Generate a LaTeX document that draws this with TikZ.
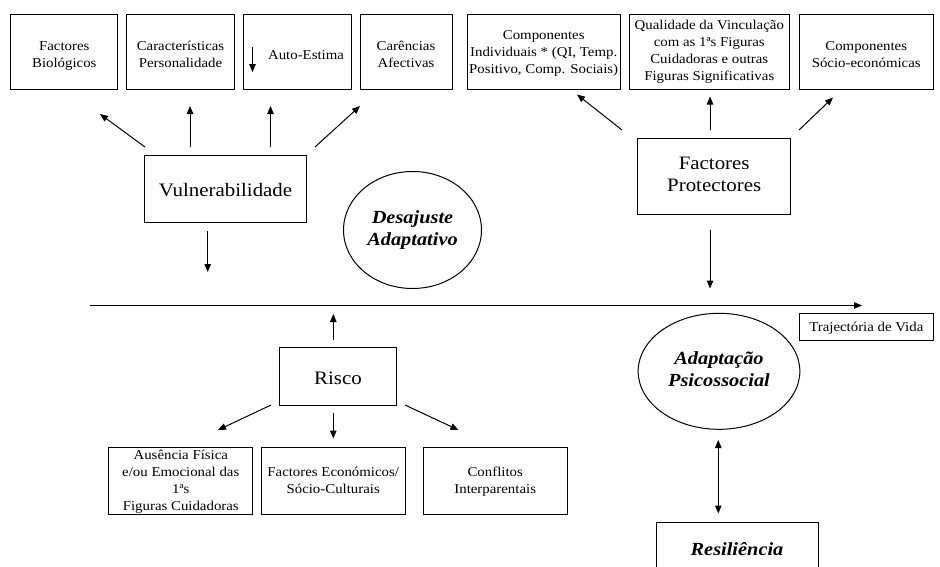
\documentclass[tikz,border=0pt]{standalone}
\usepackage{fontspec}
\setmainfont{Liberation Serif}[FakeStretch=1.1]
\usetikzlibrary{arrows.meta,shapes.geometric}

\newcommand\txtS{\fontsize{13.5}{17}\selectfont}
\newcommand\txtL{\fontsize{19}{22}\selectfont}
\newcommand\txtE{\fontsize{18.5}{21.5}\selectfont\bfseries\itshape}

\begin{document}
\begin{tikzpicture}[x=1pt,y=-1pt,
  % fixed line struts so that text sits on predictable baselines
  smallstrut/.style={execute at begin node={\rule{0pt}{12pt}},
                     execute at end node={\rule[-3.2pt]{0pt}{3.2pt}}},
  bigstrut/.style={execute at begin node={\rule{0pt}{19pt}},
                   execute at end node={\rule[-4pt]{0pt}{4pt}}},
  frame/.style={draw, line width=1pt, inner sep=0pt},
  topbox/.style={frame, minimum height=75pt},
  lowbox/.style={frame, minimum height=67pt, minimum width=143.7pt},
  % small text, hung from the top of its first line
  txt/.style={font=\txtS, align=center, inner sep=0pt, anchor=north,
              execute at begin node={\rule{0pt}{10pt}}},
  bigbox/.style={frame, align=center, font=\txtL, bigstrut},
  oval/.style={ellipse, frame, align=center, font=\txtE, bigstrut},
  tip/.tip={Triangle[length=8pt,width=6.5pt]},
  arr/.style={line width=1pt, -tip},
  darr/.style={line width=1pt, tip-tip},
]
\useasboundingbox (0,0) rectangle (940,566);
\clip (0,0) rectangle (940,566);

% ---- top row: vulnerability factors ----
\node[topbox, minimum width=107.3pt] (b1) at (64.3,51.5) {};
\node[txt] (b1t) at (64.3,41) {Factores\\Biológicos};
\node[topbox, minimum width=107.6pt] (b2) at (180.5,51.5) {};
\node[txt] (b2t) at (180.5,41) {Características\\Personalidade};
\node[topbox, minimum width=108pt]   (b3) at (297,51.5) {};
\node[txt] (b3t) at (306,49) {Auto-Estima};
\coordinate (b3a1) at (252.5,47);
\coordinate (b3a2) at (252.5,72);
\draw[arr] (b3a1) -- (b3a2);
\node[topbox, minimum width=92pt]    (b4) at (406,51.5) {};
\node[txt] (b4t) at (406,41) {Carências\\Afectivas};

% ---- top row: protective factors ----
\node[topbox, minimum width=152.7pt] (b5) at (543.7,51.5) {};
\node[txt] (b5t) at (543.7,30)
  {Componentes\\Individuais * (QI, Temp.\\Positivo, Comp. Sociais)};
\node[topbox, minimum width=160pt]   (b6) at (709.3,51.5) {};
\node[txt] (b6t) at (709.3,20)
  {Qualidade da Vinculação\\com as 1ªs Figuras\\Cuidadoras e outras\\Figuras Significativas};
\node[topbox, minimum width=133.7pt] (b7) at (866.2,51.5) {};
\node[txt] (b7t) at (866.2,41) {Componentes\\Sócio-económicas};

% ---- central nodes ----
\node[bigbox, minimum width=162.4pt, minimum height=67.3pt] (vul) at (225.5,188.7) {Vulnerabilidade};
\node[bigbox, minimum width=153pt, minimum height=76pt] (prot) at (714.2,176.3) {Factores\\Protectores};
\node[oval, minimum width=138pt, minimum height=117pt] (desaj) at (412.5,230) {Desajuste\\Adaptativo};
\node[bigbox, minimum width=117.4pt, minimum height=58pt] (risco) at (338,376.7) {Risco};
\node[frame, font=\txtS, smallstrut, minimum width=134pt, minimum height=26.7pt]
  (traj) at (866.3,326.7) {Trajectória de Vida};
\node[oval, minimum width=161.7pt, minimum height=116pt] (adapt) at (719,371.3) {Adaptação\\Psicossocial};
\node[frame, minimum width=162pt, minimum height=80pt] (resil) at (737,562) {};
\node[font=\txtE, inner sep=0pt] (resilt) at (737,549) {Resiliência};

% ---- risk factors ----
\node[lowbox] (r1) at (180.8,480.8) {};
\node[txt] (r1t) at (180.8,449.5) {Ausência Física\\e/ou Emocional das\\1ªs\\Figuras Cuidadoras};
\node[lowbox] (r2) at (333.2,480.8) {};
\node[txt] (r2t) at (333.2,466.5) {Factores Económicos/\\Sócio-Culturais};
\node[lowbox] (r3) at (495.2,480.8) {};
\node[txt] (r3t) at (495.2,466.5) {Conflitos\\Interparentais};

% ---- life trajectory ----
\coordinate (t0) at (90,305.5);
\coordinate (t1) at (862,305.5);
\draw[arr] (t0) -- (t1);

% ---- arrows from Vulnerabilidade ----
\coordinate (v1s) at (145,147);  \coordinate (v1e) at (100,114);
\coordinate (v2s) at (190,147);  \coordinate (v2e) at (190,106);
\coordinate (v3s) at (270.5,147);\coordinate (v3e) at (270.5,106);
\coordinate (v4s) at (315,147);  \coordinate (v4e) at (360,106);
\coordinate (v5s) at (207.7,231);\coordinate (v5e) at (207.7,272);
\draw[arr] (v1s) -- (v1e);
\draw[arr] (v2s) -- (v2e);
\draw[arr] (v3s) -- (v3e);
\draw[arr] (v4s) -- (v4e);
\draw[arr] (v5s) -- (v5e);

% ---- arrows from Factores Protectores ----
\coordinate (p1s) at (622,130);  \coordinate (p1e) at (577,94.5);
\coordinate (p2s) at (710,130);  \coordinate (p2e) at (710,96.5);
\coordinate (p3s) at (799,130);  \coordinate (p3e) at (833,97.5);
\coordinate (p4s) at (710,230);  \coordinate (p4e) at (710,288.5);
\draw[arr] (p1s) -- (p1e);
\draw[arr] (p2s) -- (p2e);
\draw[arr] (p3s) -- (p3e);
\draw[arr] (p4s) -- (p4e);

% ---- arrows from Risco ----
\coordinate (k0s) at (333.3,339.5);\coordinate (k0e) at (333.3,314);
\coordinate (k1s) at (271,405);    \coordinate (k1e) at (218,430);
\coordinate (k2s) at (333.3,413);  \coordinate (k2e) at (333.3,438.5);
\coordinate (k3s) at (405,405);    \coordinate (k3e) at (458.5,430);
\draw[arr] (k0s) -- (k0e);
\draw[arr] (k1s) -- (k1e);
\draw[arr] (k2s) -- (k2e);
\draw[arr] (k3s) -- (k3e);

% ---- adaptation <-> resilience ----
\coordinate (d1) at (718.3,440);
\coordinate (d2) at (718.3,513.5);
\draw[darr] (d1) -- (d2);
\end{tikzpicture}
\end{document}
